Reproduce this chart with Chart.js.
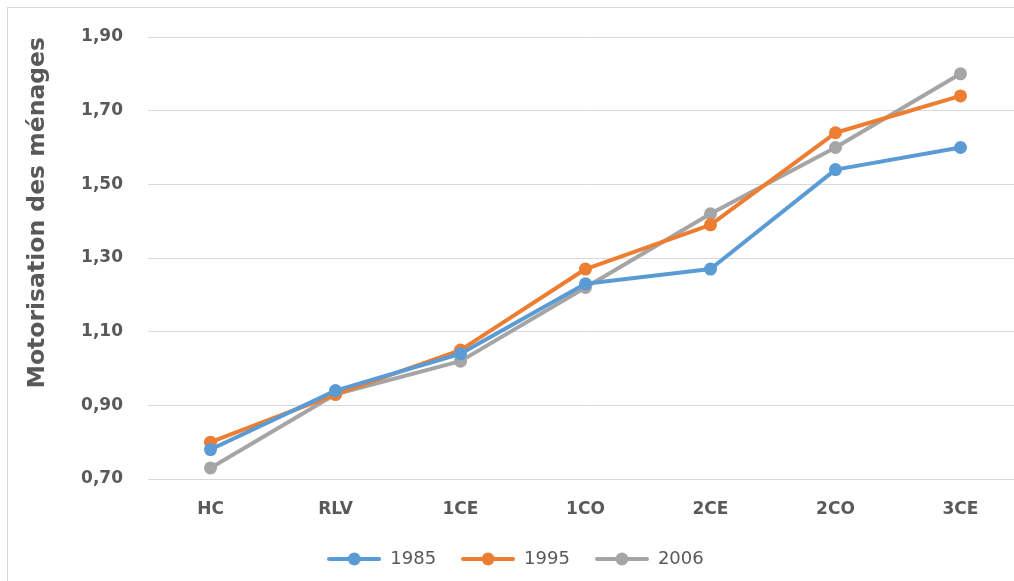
<!DOCTYPE html>
<html>
<head>
<meta charset="utf-8">
<script src="https://cdn.jsdelivr.net/npm/chart.js@4/dist/chart.umd.min.js"></script>
<style>
  html, body { margin: 0; padding: 0; background: #fff; overflow: hidden; }
  #frame { position: absolute; left: 7px; top: 7px; width: 1023px; height: 573px; border: 1px solid #D9D9D9; }
  #frame canvas { display: block; }
</style>
</head>
<body>
<div id="frame"><canvas id="lineCanvas" width="1023" height="573"></canvas></div>
<script>
// categories and series
var categories = ["HC", "RLV", "1CE", "1CO", "2CE", "2CO", "3CE"];
var values1985 = [0.78, 0.94, 1.04, 1.23, 1.27, 1.54, 1.60];
var values1995 = [0.80, 0.93, 1.05, 1.27, 1.39, 1.64, 1.74];
var values2006 = [0.73, 0.93, 1.02, 1.22, 1.42, 1.60, 1.80];
var seriesNames = ["1985", "1995", "2006"];
var yMin = 0.70, yMax = 1.90, yStep = 0.20;

var colors = ["#5B9BD5", "#ED7D31", "#A5A5A5"];
var textColor = "#595959";

// legend icon: line with a dot, like the spreadsheet legend
function legendIcon(color){
	var c = document.createElement("canvas");
	c.width = 54; c.height = 14;
	var g = c.getContext("2d");
	g.strokeStyle = color;
	g.lineWidth = 4;
	g.lineCap = "round";
	g.beginPath(); g.moveTo(2, 7); g.lineTo(52, 7); g.stroke();
	g.fillStyle = color;
	g.beginPath(); g.arc(27, 7, 6.5, 0, Math.PI * 2); g.fill();
	return c;
}

function makeDataset(name, data, color){
	return {
		label: name,
		data: data,
		borderColor: color,
		backgroundColor: color,
		borderWidth: 4,
		borderJoinStyle: "round",
		pointRadius: 6.5,
		pointHoverRadius: 6.5,
		pointBackgroundColor: color,
		pointBorderColor: color,
		pointBorderWidth: 0,
		pointStyle: "circle",
		icon: legendIcon(color),
		tension: 0
	};
}

var datasets = [
	makeDataset(seriesNames[0], values1985, colors[0]),
	makeDataset(seriesNames[1], values1995, colors[1]),
	makeDataset(seriesNames[2], values2006, colors[2])
];

var ctx = document.getElementById("lineCanvas");
var lineChart = new Chart(ctx, {
	type: "line",
	data: { labels: categories, datasets: datasets },
	options: {
		responsive: false,
		animation: false,
		events: [],
		layout: { padding: { top: 29, right: 8, bottom: 3, left: 0 } },
		scales: {
			x: {
				offset: true,
				grid: { display: false, drawTicks: false },
				border: { display: true, color: "#D9D9D9", width: 1 },
				ticks: {
					padding: 20,
					color: textColor,
					font: { family: "DejaVu Sans", size: 17, weight: "bold" }
				},
				afterFit: function(scale){ scale.height = 46; }
			},
			y: {
				min: yMin,
				max: yMax,
				// invisible tick marks give the gap between labels and plot
				grid: { color: "#D9D9D9", lineWidth: 1, drawTicks: true, tickLength: 25, tickColor: "rgba(0,0,0,0)" },
				border: { display: false },
				ticks: {
					stepSize: yStep,
					padding: 0,
					color: textColor,
					font: { family: "DejaVu Sans", size: 17, weight: "bold" },
					callback: function(v){ return v.toFixed(2).replace(".", ","); }
				},
				title: {
					display: true,
					text: "Motorisation des ménages",
					align: "end",
					color: textColor,
					padding: { top: 16, bottom: 0 },
					font: { family: "DejaVu Sans", size: 23.5, weight: "bold" }
				},
				afterFit: function(scale){ scale.width = 140; }
			}
		},
		plugins: {
			tooltip: { enabled: false },
			legend: {
				position: "bottom",
				labels: {
					usePointStyle: true,
					pointStyleWidth: 54,
					padding: 25,
					color: textColor,
					font: { family: "DejaVu Sans", size: 18 },
					generateLabels: function(chart){
						return chart.data.datasets.map(function(d, i){
							return {
								text: d.label,
								fillStyle: d.borderColor,
								strokeStyle: d.borderColor,
								lineWidth: 0,
								pointStyle: d.icon,
								fontColor: textColor,
								hidden: false,
								datasetIndex: i
							};
						});
					}
				}
			}
		}
	}
});
</script>
</body>
</html>
